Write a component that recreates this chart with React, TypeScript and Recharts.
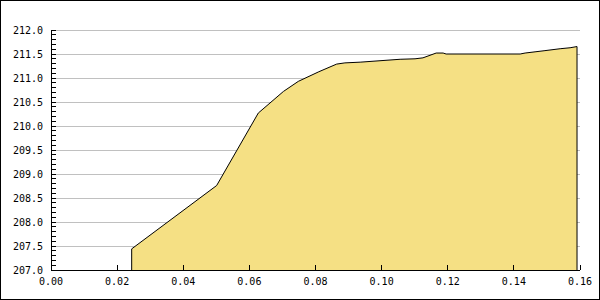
import React from "react";
import { AreaChart, Area, XAxis, YAxis, CartesianGrid } from "recharts";

const xValues = [
  0.0244, 0.0244, 0.0501, 0.0627, 0.0703, 0.0748, 0.0810, 0.0864, 0.0889, 0.0935,
  0.1056, 0.1101, 0.1125, 0.1165, 0.1186, 0.1195, 0.1419, 0.1434, 0.1464, 0.1494,
  0.1540, 0.1570, 0.1591, 0.1591,
];
const yValues = [
  207.0, 207.44, 208.76, 210.27, 210.72, 210.93, 211.13, 211.29, 211.315, 211.33,
  211.39, 211.40, 211.42, 211.52, 211.52, 211.50, 211.50, 211.52, 211.545, 211.57,
  211.61, 211.63, 211.655, 207.0,
];
const xTicks = [0, 0.02, 0.04, 0.06, 0.08, 0.1, 0.12, 0.14, 0.16];
const yMajorTicks = [207, 207.5, 208, 208.5, 209, 209.5, 210, 210.5, 211, 211.5, 212];
const yAllTicks: number[] = [
  207, 207.1, 207.2, 207.3, 207.4, 207.5, 207.6, 207.7, 207.8, 207.9,
  208, 208.1, 208.2, 208.3, 208.4, 208.5, 208.6, 208.7, 208.8, 208.9,
  209, 209.1, 209.2, 209.3, 209.4, 209.5, 209.6, 209.7, 209.8, 209.9,
  210, 210.1, 210.2, 210.3, 210.4, 210.5, 210.6, 210.7, 210.8, 210.9,
  211, 211.1, 211.2, 211.3, 211.4, 211.5, 211.6, 211.7, 211.8, 211.9, 212,
];

const data = xValues.map((x, i) => ({ x, y: yValues[i] }));

const FONT = "DejaVu Sans Mono";
const TICK_MARGIN = 8;
const TICK_LEN = 5;

const YTick = (props: any) => {
  const { x, y, payload } = props;
  const v = payload.value as number;
  const isMajor = yMajorTicks.some((t) => Math.abs(t - v) < 1e-6);
  const ax = x + TICK_MARGIN;
  return (
    <g>
      <line x1={ax} x2={ax + TICK_LEN} y1={y} y2={y} stroke="#000" shapeRendering="crispEdges" />
      {isMajor && (
        <text x={x} y={y} dy="0.355em" textAnchor="end" fontFamily={FONT} fontSize={10} fill="#000">
          {v.toFixed(1)}
        </text>
      )}
    </g>
  );
};

const XTick = (props: any) => {
  const { x, y, payload } = props;
  const v = payload.value as number;
  const ay = y - TICK_MARGIN;
  return (
    <g>
      <line x1={x} x2={x} y1={ay} y2={ay - TICK_LEN} stroke="#000" shapeRendering="crispEdges" />
      <text x={x} y={y} dy="0.71em" textAnchor="middle" fontFamily={FONT} fontSize={10} fill="#000">
        {v.toFixed(2)}
      </text>
    </g>
  );
};

export default function App() {
  return (
    <div style={{ position: "absolute", left: 0, top: 0, width: 600, height: 300, background: "#fff" }}>
      <AreaChart
        width={600}
        height={300}
        data={data}
        margin={{ top: 30, right: 20, bottom: 0, left: 0 }}
      >
        <CartesianGrid
          horizontal={true}
          vertical={false}
          horizontalValues={yMajorTicks}
          stroke="#c0c0c0"
          strokeDasharray=""
          shapeRendering="crispEdges"
        />
        <Area
          type="linear"
          dataKey="y"
          stroke="#000"
          strokeWidth={1}
          fill="#f5e084"
          fillOpacity={1}
          isAnimationActive={false}
          dot={false}
          activeDot={false}
        />
        <XAxis
          type="number"
          dataKey="x"
          domain={[0, 0.16]}
          ticks={xTicks}
          interval={0}
          allowDataOverflow
          height={30}
          tickSize={0}
          tickMargin={TICK_MARGIN}
          tickLine={false}
          axisLine={{ stroke: "#000", shapeRendering: "crispEdges" }}
          tick={<XTick />}
        />
        <YAxis
          type="number"
          domain={[207, 212]}
          ticks={yAllTicks}
          interval={0}
          allowDataOverflow
          width={51}
          tickSize={0}
          tickMargin={TICK_MARGIN}
          tickLine={false}
          axisLine={{ stroke: "#000", shapeRendering: "crispEdges" }}
          tick={<YTick />}
        />
      </AreaChart>
      <div
        style={{
          position: "absolute",
          left: 0,
          top: 0,
          width: 600,
          height: 300,
          boxSizing: "border-box",
          border: "1px solid #000",
          pointerEvents: "none",
        }}
      />
    </div>
  );
}
